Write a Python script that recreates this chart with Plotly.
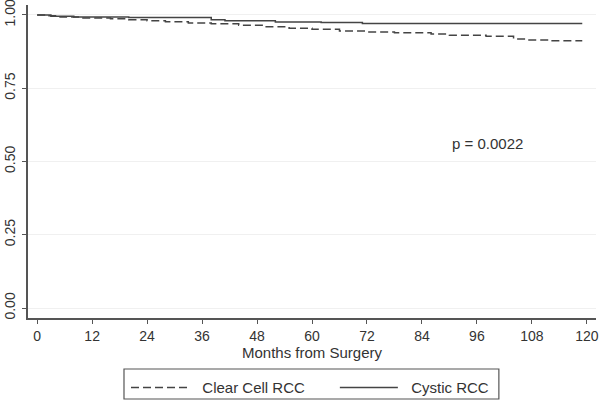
import plotly.graph_objects as go

# Kaplan-Meier step data (months, survival)
clear_months = [0, 2, 5, 10, 16, 20, 24, 28, 33, 38, 44, 50, 55, 60, 66, 72, 78, 86, 90, 98, 104, 107, 112, 119]
clear_surv = [1.0, 0.997, 0.993, 0.99, 0.987, 0.984, 0.98, 0.977, 0.973, 0.97, 0.965, 0.96, 0.955, 0.951,
              0.945, 0.942, 0.939, 0.935, 0.931, 0.927, 0.918, 0.915, 0.912, 0.912]

cystic_months = [0, 3, 8, 20, 38, 41, 52, 62, 71, 119]
cystic_surv = [1.0, 0.996, 0.993, 0.991, 0.984, 0.98, 0.976, 0.974, 0.971, 0.971]

series_names = ["Clear Cell RCC", "Cystic RCC"]

x_ticks = [0, 12, 24, 36, 48, 60, 72, 84, 96, 108, 120]
y_ticks = [0.0, 0.25, 0.5, 0.75, 1.0]
y_tick_text = ["0.00", "0.25", "0.50", "0.75", "1.00"]

p_text = "p = 0.0022"

FONT = "Liberation Sans, Arial, sans-serif"
LINE_COLOR = "#444444"
AXIS_COLOR = "#555555"
TEXT_COLOR = "#333333"
NBSP = "\u00a0"

fig = go.Figure()
fig.add_trace(go.Scatter(x=clear_months, y=clear_surv, mode="lines",
                         name=NBSP * 2 + series_names[0] + NBSP * 6,
                         line=dict(shape="hv", color=LINE_COLOR, width=1.5, dash="8px,4px")))
fig.add_trace(go.Scatter(x=cystic_months, y=cystic_surv, mode="lines",
                         name=NBSP * 2 + series_names[1] + NBSP,
                         line=dict(shape="hv", color=LINE_COLOR, width=1.5)))

fig.add_annotation(x=98.4, y=0.563, text=p_text, showarrow=False,
                   font=dict(family=FONT, size=15, color=TEXT_COLOR))

# legend frame
fig.add_shape(type="rect", xref="paper", yref="paper", x0=0.169, x1=0.829, y0=-0.2588, y1=-0.163,
              line=dict(color=AXIS_COLOR, width=1.2), fillcolor="rgba(0,0,0,0)", layer="above")

fig.update_layout(
    width=600, height=401,
    margin=dict(l=28, r=4, t=5, b=83, autoexpand=False),
    paper_bgcolor="white", plot_bgcolor="white",
    font=dict(family=FONT, size=14, color=TEXT_COLOR),
    showlegend=True,
    legend=dict(orientation="h", x=0.5, xanchor="center", y=-0.170, yanchor="top",
                bgcolor="rgba(0,0,0,0)", borderwidth=0, font=dict(size=15),
                itemwidth=58),
    xaxis=dict(range=[-2, 122], tickvals=x_ticks, showgrid=False, zeroline=False,
               showline=True, linecolor=AXIS_COLOR, linewidth=1.5, automargin=False,
               ticks="outside", ticklen=4, tickcolor=AXIS_COLOR,
               title=dict(text="Months from Surgery", standoff=0, font=dict(size=15)),
               tickfont=dict(size=14), ticklabeloverflow="allow"),
    yaxis=dict(range=[-0.034, 1.034], tickvals=y_ticks, ticktext=y_tick_text,
               showgrid=True, gridcolor="#f0f0f0", gridwidth=1, zeroline=False,
               showline=True, linecolor=AXIS_COLOR, linewidth=1.5, automargin=False,
               ticks="outside", ticklen=4, tickcolor=AXIS_COLOR, tickangle=-90,
               ticklabelstandoff=2, ticklabeloverflow="allow",
               tickfont=dict(size=14)),
)

fig.write_html("out.html", config={"displayModeBar": False},
               post_script="document.body.style.margin='0';document.body.style.padding='0';")
